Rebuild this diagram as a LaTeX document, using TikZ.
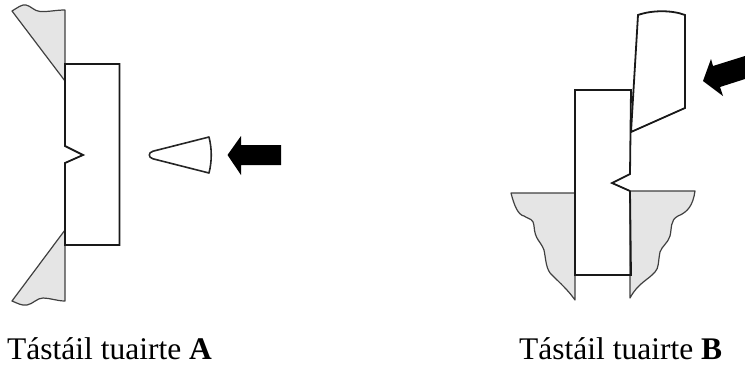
\documentclass[tikz,border=0pt]{standalone}
\usepackage{fontspec}
\setmainfont{Liberation Serif}
\begin{document}
\begin{tikzpicture}[x=1pt,y=-1pt,
  shade/.style={fill=black!10,draw=black!75,line width=1.2pt,line join=round},
  outline/.style={draw=black!90,line width=1.8pt,line join=miter,fill=white},
  label/.style={anchor=base west,inner sep=0pt,font=\fontsize{31.5}{36}\selectfont}]
\useasboundingbox (0,0) rectangle (745,365);
% left specimen
\draw[shade] (65,81) -- (12,11) .. controls (17,8) and (22,4) .. (26,5) .. controls (31,6) and (34,11) .. (40,11.5) .. controls (48,12) and (56,10) .. (65,10) -- cycle;
\draw[shade] (65,230) -- (12,301) .. controls (17,303) and (22,306) .. (27,305) .. controls (33,304) and (37,298) .. (43,298) .. controls (50,298) and (57,301) .. (65,301) -- cycle;
\draw[outline] (65,81) -- (65,64) -- (119.5,64) -- (119.5,245) -- (65,245) -- (65,230) -- (65,163) -- (83,155) -- (65,146) -- cycle;
% left striker
\draw[draw=black!85,line width=1.6pt,line join=round] (209,137) .. controls (212,149) and (212,161) .. (209,173) -- (153,158.8) .. controls (148,157.5) and (148,152.5) .. (153,151.2) -- cycle;
\fill[black] (227.5,155) -- (241,136) -- (241,145) -- (281,145) -- (281,165) -- (241,165) -- (241,175) -- cycle;
% right specimen
\draw[shade] (575,193) -- (511,193) .. controls (514,205) and (518,215) .. (524,216) .. controls (530,220) and (533,218) .. (534,226) .. controls (535,240) and (540,240) .. (544,250) .. controls (546,260) and (546,270) .. (552,275) .. controls (560,283) and (568,290) .. (575,300) -- cycle;
\draw[shade] (630,191) -- (695,191) .. controls (693,205) and (688,212) .. (678,216) .. controls (670,220) and (672,228) .. (670,236) .. controls (668,243) and (662,246) .. (660,252) .. controls (658,262) and (659,268) .. (655,272) .. controls (648,280) and (638,283) .. (630,298) -- cycle;
\draw[outline,fill=none] (630,191) -- (612,183) -- (630,174) -- (631,90) -- (575,90) -- (575,275) -- (631,275) -- (630,191);
% right striker
\draw[outline,fill=white] (638,15) .. controls (652,10) and (672,10) .. (685,15) -- (685,108) -- (631,132) -- cycle;
\fill[black] (703,81) -- (711,59) -- (713,66) -- (745,56) -- (745,79) -- (720,87) -- (723,96) -- cycle;
% captions
\node[label] (captionA) at (7,359) {Tástáil tuairte \textbf{A}};
\node[label] (captionB) at (519,359) {Tástáil tuairte \textbf{B}};
\end{tikzpicture}
\end{document}
